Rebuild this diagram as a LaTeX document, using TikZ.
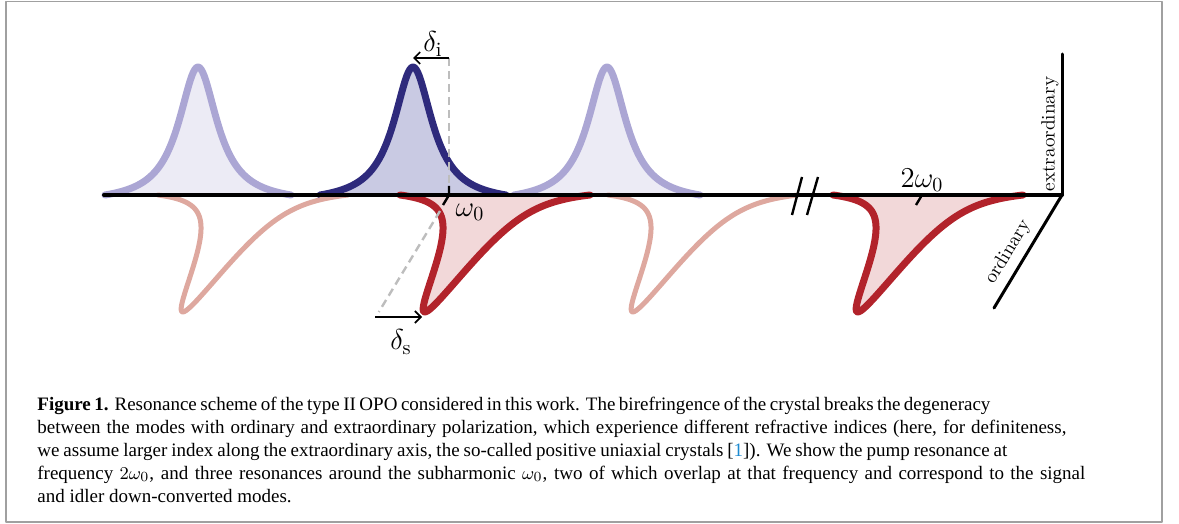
\documentclass[tikz,border=0pt]{standalone}
\usepackage{fontspec}
\newfontfamily\capfont{Liberation Serif}
\usetikzlibrary{arrows.meta}
\definecolor{lblue}{HTML}{ABA6D4}
\definecolor{lbluefill}{HTML}{ECEBF5}
\definecolor{dblue}{HTML}{2E2A7C}
\definecolor{dbluefill}{HTML}{C9CAE3}
\definecolor{dred}{HTML}{B2232B}
\definecolor{dredfill}{HTML}{F2D8D9}
\definecolor{lred}{HTML}{DEA89F}
\definecolor{framegray}{HTML}{A0A0A0}
\definecolor{dashgray}{HTML}{BDBDBD}
\definecolor{refblue}{HTML}{1C8AD0}
\begin{document}
\begin{tikzpicture}[x=0.5pt,y=-0.5pt,line join=round,
  declare function={
    lorb(\t)=(1/(1+(\t/23.5)^2)-0.0600)/0.9400;
    lorr(\t)=(1/(1+(\t/22)^2)-0.0509)/0.9491;},
  lpeak/.style={draw=lblue,line width=3.5pt,line cap=round},
  dpeak/.style={draw=dblue,line width=3.5pt,line cap=round},
  lrpeak/.style={draw=lred,line width=2.5pt,line cap=round},
  drpeak/.style={draw=dred,line width=3.5pt,line cap=round},
  axisline/.style={line width=2pt,line cap=round},
  polaxis/.style={line width=1.5pt,line cap=round},
  tickline/.style={line width=1.2pt},
  gdash/.style={draw=dashgray,line width=1.2pt,dash pattern=on 4pt off 2.5pt},
  arr/.style={line width=0.8pt,-{Straight Barb[length=3pt,width=6pt]}},
  mlab/.style={font=\fontsize{14.5}{17}\selectfont,inner sep=0pt},
  tlab/.style={font=\fontsize{9.6}{11}\selectfont,inner sep=0pt},
  capline/.style={anchor=base west,inner sep=0pt,font=\capfont\fontsize{9.5}{11.5}\selectfont}
]
\useasboundingbox (0,0) rectangle (1179,524);
\draw[framegray,line width=0.8pt] (6,1.5) rectangle (1162,522);

% upper (extraordinary) resonances
\foreach \c in {198,607}{
  \fill[lbluefill] plot[domain=-93:93,samples=121] ({\c+\x},{195-128*lorb(\x)}) -- cycle;
  \draw[lpeak] plot[domain=-93:93,samples=121] ({\c+\x},{195-128*lorb(\x)});
}
\fill[dbluefill] plot[domain=-93:93,samples=121] ({413+\x},{195-128*lorb(\x)}) -- cycle;
\draw[dpeak] plot[domain=-93:93,samples=121] ({413+\x},{195-128*lorb(\x)});

% lower (ordinary) resonances
\foreach \c in {253,703}{
  \draw[lrpeak] plot[domain=-95:95,samples=161] ({\c+\x-0.6*117*lorr(\x)},{195+117*lorr(\x)});
}
\foreach \c in {495,928}{
  \fill[dredfill] plot[domain=-95:95,samples=161] ({\c+\x-0.6*117*lorr(\x)},{195+117*lorr(\x)}) -- cycle;
  \draw[drpeak] plot[domain=-95:95,samples=161] ({\c+\x-0.6*117*lorr(\x)},{195+117*lorr(\x)});
}

% named points
\coordinate (O) at (1062,195);
\coordinate (axL) at (104,195);
\coordinate (extT) at (1062,54);
\coordinate (ordB) at (994,308);
\coordinate (w0) at (449,195);
\coordinate (w0up) at (449,186);
\coordinate (w0dn) at (443,205);
\coordinate (dtop) at (449,58);
\coordinate (dbot) at (449,184);
\coordinate (ipk) at (413,58);
\coordinate (sdA) at (440,211);
\coordinate (sdB) at (378.8,312);
\coordinate (sA) at (375,317);
\coordinate (sB) at (422,317);
\coordinate (p2) at (922,195);
\coordinate (p2dn) at (916,205);
\coordinate (b1t) at (802,177);
\coordinate (b1b) at (792,215);
\coordinate (b2t) at (818,177);
\coordinate (b2b) at (807,215);

% dashed guides
\draw[gdash] (dtop) -- (dbot);
\draw[gdash] (sdA) -- (sdB);

% axes
\draw[axisline] (axL) -- (O);
\draw[polaxis] (O) -- (extT);
\draw[polaxis] (O) -- (ordB);
\draw[tickline] (w0up) -- (w0) -- (w0dn);
\draw[tickline] (p2) -- (p2dn);
\draw[tickline] (b1t) -- (b1b);
\draw[tickline] (b2t) -- (b2b);

% arrows
\draw[arr] (dtop) -- (ipk);
\draw[arr] (sA) -- (sB);

% labels
\node[mlab] (ldi) at (433,44) {$\delta_{\mathrm{i}}$};
\node[mlab] (lds) at (401,342) {$\delta_{\mathrm{s}}$};
\node[mlab] (lw0) at (470,212) {$\omega_0$};
\node[mlab] (l2w0) at (922,180) {$2\omega_0$};
\node[tlab,rotate=90] (lext) at (1050,134) {extraordinary};
\node[tlab,rotate=59] (lord) at (1008,252) {ordinary};

% caption
\node[capline] (c1) at (37,410) {\makebox[476.5pt][s]{\textbf{Figure 1.} Resonance scheme of the type II OPO considered in this work. The birefringence of the crystal breaks the degeneracy}};
\node[capline] (c2) at (37,433) {\makebox[514.5pt][s]{between the modes with ordinary and extraordinary polarization, which experience different refractive indices (here, for definiteness,}};
\node[capline] (c3) at (37,456) {\makebox[485pt][s]{we assume larger index along the extraordinary axis, the so-called positive uniaxial crystals [{\color{refblue}1}]). We show the pump resonance at}};
\node[capline] (c4) at (37,479) {\makebox[524pt][s]{frequency $2\omega_0$, and three resonances around the subharmonic $\omega_0$, two of which overlap at that frequency and correspond to the signal}};
\node[capline] (c5) at (37,502) {and idler down-converted modes.};
\end{tikzpicture}
\end{document}
